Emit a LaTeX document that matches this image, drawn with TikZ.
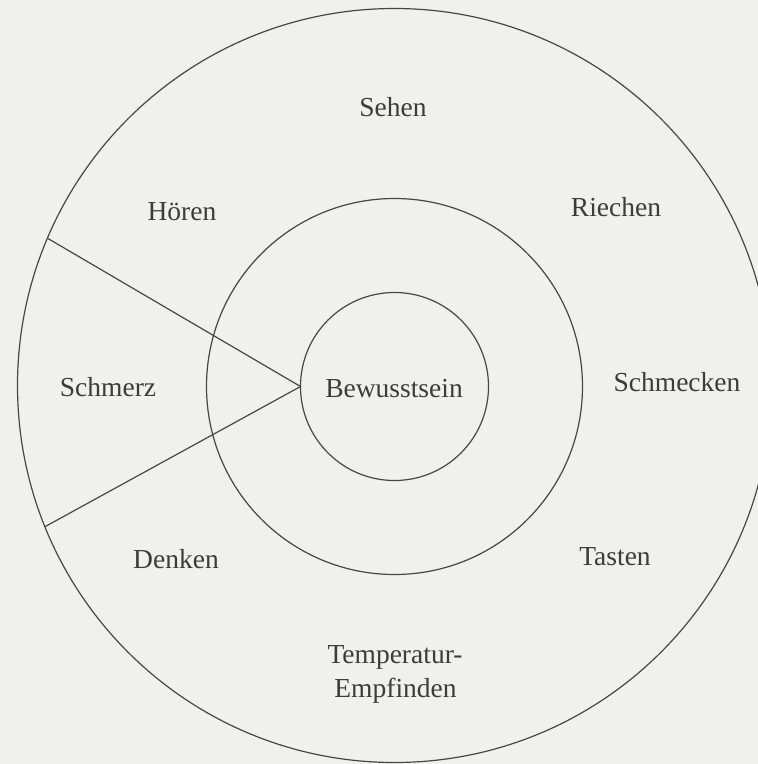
\documentclass[tikz,border=0pt]{standalone}
\usepackage{fontspec}
\setmainfont{Liberation Serif}
\definecolor{paper}{RGB}{240,240,238}
\definecolor{ink}{RGB}{70,70,70}
\definecolor{textink}{RGB}{60,60,60}
\begin{document}
\begin{tikzpicture}[x=1pt,y=-1pt,
  ring/.style={circle,draw=ink,line width=1.2pt,inner sep=0pt,outer sep=0pt},
  spoke/.style={draw=ink,line width=1.2pt},
  lab/.style={text=textink,font=\fontsize{27.5}{32}\selectfont,inner sep=0pt,anchor=base}]
\useasboundingbox (0,0) rectangle (758,764);
\clip (0,0) rectangle (758,764);
\fill[paper] (0,0) rectangle (758,764);
\node[ring,minimum size=754pt] (outer) at (394.5,385.5) {};
\node[ring,minimum size=376pt] (middle) at (394.5,386.5) {};
\node[ring,minimum size=188pt] (inner) at (394.5,386.5) {};
\draw[spoke] (inner.west) -- (outer.157.5);
\draw[spoke] (inner.west) -- (outer.202.5);
\node[lab] (sehen) at (393,116) {Sehen};
\node[lab] (hoeren) at (182,220) {Hören};
\node[lab] (riechen) at (616,216.5) {Riechen};
\node[lab] (schmerz) at (108,396) {Schmerz};
\node[lab] (bewusst) at (394,397) {Bewusstsein};
\node[lab] (schmecken) at (677,391) {Schmecken};
\node[lab] (denken) at (176,568) {Denken};
\node[lab] (tasten) at (615,565) {Tasten};
\node[lab] (temp) at (395,663) {Temperatur-};
\node[lab] (empf) at (395.5,697) {Empfinden};
\end{tikzpicture}
\end{document}
